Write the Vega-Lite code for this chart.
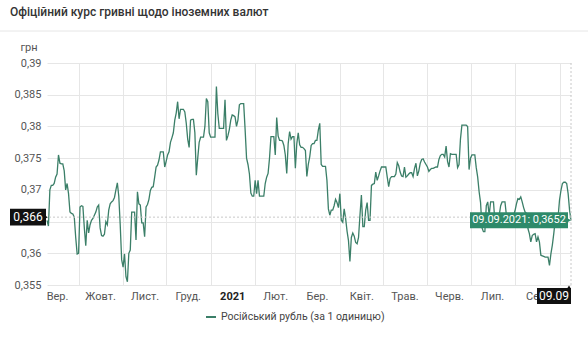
{
"$schema": "https://vega.github.io/schema/vega-lite/v6.json",
"width": 524, "height": 222,
"autosize": {"type": "none"},
"padding": {"left": 47, "top": 63, "right": 17, "bottom": 65},
"background": "white",
"config": {"view": {"stroke": null}, "font": "Roboto"},
"title": {"text": "Офіційний курс гривні щодо іноземних валют", "anchor": "start", "frame": "group", "dx": -37, "offset": 12, "fontSize": 12, "fontWeight": 500, "color": "#333333", "font": "Roboto"},
"datasets": {"rub": [
{"d":"2020-09-09","v":0.3652},{"d":"2020-09-10","v":0.3643},{"d":"2020-09-11","v":0.3700},{"d":"2020-09-12","v":0.3707},{"d":"2020-09-13","v":0.3707},{"d":"2020-09-14","v":0.3710},{"d":"2020-09-15","v":0.3720},{"d":"2020-09-16","v":0.3725},{"d":"2020-09-17","v":0.3755},{"d":"2020-09-18","v":0.3742},{"d":"2020-09-19","v":0.3741},{"d":"2020-09-20","v":0.3741},{"d":"2020-09-21","v":0.3730},{"d":"2020-09-22","v":0.3700},{"d":"2020-09-23","v":0.3710},{"d":"2020-09-24","v":0.3694},{"d":"2020-09-25","v":0.3665},{"d":"2020-09-26","v":0.3663},{"d":"2020-09-27","v":0.3662},{"d":"2020-09-28","v":0.3657},{"d":"2020-09-29","v":0.3625},{"d":"2020-09-30","v":0.3599},
{"d":"2020-10-01","v":0.3600},{"d":"2020-10-02","v":0.3673},{"d":"2020-10-03","v":0.3675},{"d":"2020-10-04","v":0.3674},{"d":"2020-10-05","v":0.3640},{"d":"2020-10-06","v":0.3612},{"d":"2020-10-07","v":0.3652},{"d":"2020-10-08","v":0.3632},{"d":"2020-10-09","v":0.3645},{"d":"2020-10-10","v":0.3652},{"d":"2020-10-11","v":0.3655},{"d":"2020-10-12","v":0.3660},{"d":"2020-10-13","v":0.3665},{"d":"2020-10-14","v":0.3673},{"d":"2020-10-15","v":0.3676},{"d":"2020-10-16","v":0.3640},{"d":"2020-10-17","v":0.3628},{"d":"2020-10-18","v":0.3627},{"d":"2020-10-19","v":0.3630},{"d":"2020-10-20","v":0.3650},{"d":"2020-10-21","v":0.3645},{"d":"2020-10-22","v":0.3668},{"d":"2020-10-23","v":0.3678},{"d":"2020-10-24","v":0.3681},{"d":"2020-10-25","v":0.3683},{"d":"2020-10-26","v":0.3688},{"d":"2020-10-27","v":0.3700},{"d":"2020-10-28","v":0.3711},{"d":"2020-10-29","v":0.3690},{"d":"2020-10-30","v":0.3645},{"d":"2020-10-31","v":0.3590},
{"d":"2020-11-01","v":0.3578},{"d":"2020-11-02","v":0.3599},{"d":"2020-11-03","v":0.3563},{"d":"2020-11-04","v":0.3555},{"d":"2020-11-05","v":0.3600},{"d":"2020-11-06","v":0.3605},{"d":"2020-11-07","v":0.3665},{"d":"2020-11-08","v":0.3665},{"d":"2020-11-09","v":0.3665},{"d":"2020-11-10","v":0.3621},{"d":"2020-11-11","v":0.3697},{"d":"2020-11-12","v":0.3678},{"d":"2020-11-13","v":0.3676},{"d":"2020-11-14","v":0.3648},{"d":"2020-11-15","v":0.3648},{"d":"2020-11-16","v":0.3626},{"d":"2020-11-17","v":0.3673},{"d":"2020-11-18","v":0.3677},{"d":"2020-11-19","v":0.3685},{"d":"2020-11-20","v":0.3699},{"d":"2020-11-21","v":0.3704},{"d":"2020-11-22","v":0.3705},{"d":"2020-11-23","v":0.3720},{"d":"2020-11-24","v":0.3736},{"d":"2020-11-25","v":0.3739},{"d":"2020-11-26","v":0.3747},{"d":"2020-11-27","v":0.3760},{"d":"2020-11-28","v":0.3760},{"d":"2020-11-29","v":0.3760},{"d":"2020-11-30","v":0.3736},
{"d":"2020-12-01","v":0.3745},{"d":"2020-12-02","v":0.3755},{"d":"2020-12-03","v":0.3760},{"d":"2020-12-04","v":0.3775},{"d":"2020-12-05","v":0.3782},{"d":"2020-12-06","v":0.3790},{"d":"2020-12-07","v":0.3810},{"d":"2020-12-08","v":0.3821},{"d":"2020-12-09","v":0.3839},{"d":"2020-12-10","v":0.3812},{"d":"2020-12-11","v":0.3827},{"d":"2020-12-12","v":0.3827},{"d":"2020-12-13","v":0.3827},{"d":"2020-12-14","v":0.3823},{"d":"2020-12-15","v":0.3805},{"d":"2020-12-16","v":0.3780},{"d":"2020-12-17","v":0.3767},{"d":"2020-12-18","v":0.3810},{"d":"2020-12-19","v":0.3811},{"d":"2020-12-20","v":0.3811},{"d":"2020-12-21","v":0.3790},{"d":"2020-12-22","v":0.3723},{"d":"2020-12-23","v":0.3750},{"d":"2020-12-24","v":0.3775},{"d":"2020-12-25","v":0.3783},{"d":"2020-12-26","v":0.3783},{"d":"2020-12-27","v":0.3783},{"d":"2020-12-28","v":0.3800},{"d":"2020-12-29","v":0.3844},{"d":"2020-12-30","v":0.3839},{"d":"2020-12-31","v":0.3790},
{"d":"2021-01-01","v":0.3783},{"d":"2021-01-02","v":0.3783},{"d":"2021-01-03","v":0.3783},{"d":"2021-01-04","v":0.3783},{"d":"2021-01-05","v":0.3863},{"d":"2021-01-06","v":0.3820},{"d":"2021-01-07","v":0.3797},{"d":"2021-01-08","v":0.3797},{"d":"2021-01-09","v":0.3797},{"d":"2021-01-10","v":0.3797},{"d":"2021-01-11","v":0.3842},{"d":"2021-01-12","v":0.3778},{"d":"2021-01-13","v":0.3785},{"d":"2021-01-14","v":0.3795},{"d":"2021-01-15","v":0.3810},{"d":"2021-01-16","v":0.3818},{"d":"2021-01-17","v":0.3817},{"d":"2021-01-18","v":0.3815},{"d":"2021-01-19","v":0.3800},{"d":"2021-01-20","v":0.3810},{"d":"2021-01-21","v":0.3834},{"d":"2021-01-22","v":0.3836},{"d":"2021-01-23","v":0.3836},{"d":"2021-01-24","v":0.3836},{"d":"2021-01-25","v":0.3795},{"d":"2021-01-26","v":0.3750},{"d":"2021-01-27","v":0.3740},{"d":"2021-01-28","v":0.3725},{"d":"2021-01-29","v":0.3695},{"d":"2021-01-30","v":0.3690},{"d":"2021-01-31","v":0.3690},
{"d":"2021-02-01","v":0.3715},{"d":"2021-02-02","v":0.3694},{"d":"2021-02-03","v":0.3715},{"d":"2021-02-04","v":0.3690},{"d":"2021-02-05","v":0.3690},{"d":"2021-02-06","v":0.3690},{"d":"2021-02-07","v":0.3690},{"d":"2021-02-08","v":0.3710},{"d":"2021-02-09","v":0.3720},{"d":"2021-02-10","v":0.3726},{"d":"2021-02-11","v":0.3750},{"d":"2021-02-12","v":0.3784},{"d":"2021-02-13","v":0.3784},{"d":"2021-02-14","v":0.3784},{"d":"2021-02-15","v":0.3755},{"d":"2021-02-16","v":0.3814},{"d":"2021-02-17","v":0.3785},{"d":"2021-02-18","v":0.3778},{"d":"2021-02-19","v":0.3778},{"d":"2021-02-20","v":0.3777},{"d":"2021-02-21","v":0.3770},{"d":"2021-02-22","v":0.3755},{"d":"2021-02-23","v":0.3726},{"d":"2021-02-24","v":0.3773},{"d":"2021-02-25","v":0.3792},{"d":"2021-02-26","v":0.3780},{"d":"2021-02-27","v":0.3784},{"d":"2021-02-28","v":0.3784},
{"d":"2021-03-01","v":0.3734},{"d":"2021-03-02","v":0.3773},{"d":"2021-03-03","v":0.3790},{"d":"2021-03-04","v":0.3771},{"d":"2021-03-05","v":0.3767},{"d":"2021-03-06","v":0.3767},{"d":"2021-03-07","v":0.3765},{"d":"2021-03-08","v":0.3762},{"d":"2021-03-09","v":0.3721},{"d":"2021-03-10","v":0.3740},{"d":"2021-03-11","v":0.3752},{"d":"2021-03-12","v":0.3770},{"d":"2021-03-13","v":0.3773},{"d":"2021-03-14","v":0.3773},{"d":"2021-03-15","v":0.3778},{"d":"2021-03-16","v":0.3778},{"d":"2021-03-17","v":0.3794},{"d":"2021-03-18","v":0.3805},{"d":"2021-03-19","v":0.3740},{"d":"2021-03-20","v":0.3737},{"d":"2021-03-21","v":0.3737},{"d":"2021-03-22","v":0.3737},{"d":"2021-03-23","v":0.3715},{"d":"2021-03-24","v":0.3670},{"d":"2021-03-25","v":0.3660},{"d":"2021-03-26","v":0.3668},{"d":"2021-03-27","v":0.3668},{"d":"2021-03-28","v":0.3675},{"d":"2021-03-29","v":0.3685},{"d":"2021-03-30","v":0.3680},{"d":"2021-03-31","v":0.3672},
{"d":"2021-04-01","v":0.3694},{"d":"2021-04-02","v":0.3652},{"d":"2021-04-03","v":0.3649},{"d":"2021-04-04","v":0.3670},{"d":"2021-04-05","v":0.3655},{"d":"2021-04-06","v":0.3635},{"d":"2021-04-07","v":0.3620},{"d":"2021-04-08","v":0.3587},{"d":"2021-04-09","v":0.3625},{"d":"2021-04-10","v":0.3632},{"d":"2021-04-11","v":0.3627},{"d":"2021-04-12","v":0.3617},{"d":"2021-04-13","v":0.3615},{"d":"2021-04-14","v":0.3625},{"d":"2021-04-15","v":0.3660},{"d":"2021-04-16","v":0.3692},{"d":"2021-04-17","v":0.3642},{"d":"2021-04-18","v":0.3642},{"d":"2021-04-19","v":0.3668},{"d":"2021-04-20","v":0.3680},{"d":"2021-04-21","v":0.3652},{"d":"2021-04-22","v":0.3652},{"d":"2021-04-23","v":0.3707},{"d":"2021-04-24","v":0.3709},{"d":"2021-04-25","v":0.3710},{"d":"2021-04-26","v":0.3728},{"d":"2021-04-27","v":0.3715},{"d":"2021-04-28","v":0.3722},{"d":"2021-04-29","v":0.3730},{"d":"2021-04-30","v":0.3736},
{"d":"2021-05-01","v":0.3736},{"d":"2021-05-02","v":0.3736},{"d":"2021-05-03","v":0.3736},{"d":"2021-05-04","v":0.3720},{"d":"2021-05-05","v":0.3705},{"d":"2021-05-06","v":0.3718},{"d":"2021-05-07","v":0.3721},{"d":"2021-05-08","v":0.3721},{"d":"2021-05-09","v":0.3721},{"d":"2021-05-10","v":0.3725},{"d":"2021-05-11","v":0.3743},{"d":"2021-05-12","v":0.3738},{"d":"2021-05-13","v":0.3728},{"d":"2021-05-14","v":0.3722},{"d":"2021-05-15","v":0.3721},{"d":"2021-05-16","v":0.3736},{"d":"2021-05-17","v":0.3720},{"d":"2021-05-18","v":0.3722},{"d":"2021-05-19","v":0.3725},{"d":"2021-05-20","v":0.3727},{"d":"2021-05-21","v":0.3727},{"d":"2021-05-22","v":0.3721},{"d":"2021-05-23","v":0.3734},{"d":"2021-05-24","v":0.3742},{"d":"2021-05-25","v":0.3722},{"d":"2021-05-26","v":0.3730},{"d":"2021-05-27","v":0.3742},{"d":"2021-05-28","v":0.3748},{"d":"2021-05-29","v":0.3749},{"d":"2021-05-30","v":0.3744},{"d":"2021-05-31","v":0.3740},
{"d":"2021-06-01","v":0.3736},{"d":"2021-06-02","v":0.3729},{"d":"2021-06-03","v":0.3732},{"d":"2021-06-04","v":0.3734},{"d":"2021-06-05","v":0.3734},{"d":"2021-06-06","v":0.3735},{"d":"2021-06-07","v":0.3736},{"d":"2021-06-08","v":0.3736},{"d":"2021-06-09","v":0.3748},{"d":"2021-06-10","v":0.3754},{"d":"2021-06-11","v":0.3756},{"d":"2021-06-12","v":0.3756},{"d":"2021-06-13","v":0.3752},{"d":"2021-06-14","v":0.3769},{"d":"2021-06-15","v":0.3745},{"d":"2021-06-16","v":0.3736},{"d":"2021-06-17","v":0.3757},{"d":"2021-06-18","v":0.3756},{"d":"2021-06-19","v":0.3756},{"d":"2021-06-20","v":0.3756},{"d":"2021-06-21","v":0.3756},{"d":"2021-06-22","v":0.3735},{"d":"2021-06-23","v":0.3740},{"d":"2021-06-24","v":0.3780},{"d":"2021-06-25","v":0.3802},{"d":"2021-06-26","v":0.3802},{"d":"2021-06-27","v":0.3802},{"d":"2021-06-28","v":0.3802},{"d":"2021-06-29","v":0.3800},{"d":"2021-06-30","v":0.3732},
{"d":"2021-07-01","v":0.3750},{"d":"2021-07-02","v":0.3755},{"d":"2021-07-03","v":0.3755},{"d":"2021-07-04","v":0.3755},{"d":"2021-07-05","v":0.3735},{"d":"2021-07-06","v":0.3720},{"d":"2021-07-07","v":0.3697},{"d":"2021-07-08","v":0.3680},{"d":"2021-07-09","v":0.3640},{"d":"2021-07-10","v":0.3634},{"d":"2021-07-11","v":0.3634},{"d":"2021-07-12","v":0.3675},{"d":"2021-07-13","v":0.3681},{"d":"2021-07-14","v":0.3660},{"d":"2021-07-15","v":0.3681},{"d":"2021-07-16","v":0.3681},{"d":"2021-07-17","v":0.3681},{"d":"2021-07-18","v":0.3650},{"d":"2021-07-19","v":0.3648},{"d":"2021-07-20","v":0.3652},{"d":"2021-07-21","v":0.3660},{"d":"2021-07-22","v":0.3675},{"d":"2021-07-23","v":0.3681},{"d":"2021-07-24","v":0.3681},{"d":"2021-07-25","v":0.3681},{"d":"2021-07-26","v":0.3660},{"d":"2021-07-27","v":0.3648},{"d":"2021-07-28","v":0.3642},{"d":"2021-07-29","v":0.3645},{"d":"2021-07-30","v":0.3652},{"d":"2021-07-31","v":0.3660},
{"d":"2021-08-01","v":0.3667},{"d":"2021-08-02","v":0.3678},{"d":"2021-08-03","v":0.3686},{"d":"2021-08-04","v":0.3685},{"d":"2021-08-05","v":0.3689},{"d":"2021-08-06","v":0.3681},{"d":"2021-08-07","v":0.3672},{"d":"2021-08-08","v":0.3665},{"d":"2021-08-09","v":0.3663},{"d":"2021-08-10","v":0.3639},{"d":"2021-08-11","v":0.3631},{"d":"2021-08-12","v":0.3618},{"d":"2021-08-13","v":0.3628},{"d":"2021-08-14","v":0.3630},{"d":"2021-08-15","v":0.3631},{"d":"2021-08-16","v":0.3618},{"d":"2021-08-17","v":0.3626},{"d":"2021-08-18","v":0.3618},{"d":"2021-08-19","v":0.3597},{"d":"2021-08-20","v":0.3596},{"d":"2021-08-21","v":0.3595},{"d":"2021-08-22","v":0.3594},{"d":"2021-08-23","v":0.3594},{"d":"2021-08-24","v":0.3594},{"d":"2021-08-25","v":0.3581},{"d":"2021-08-26","v":0.3599},{"d":"2021-08-27","v":0.3613},{"d":"2021-08-28","v":0.3631},{"d":"2021-08-29","v":0.3652},{"d":"2021-08-30","v":0.3655},{"d":"2021-08-31","v":0.3657},
{"d":"2021-09-01","v":0.3684},{"d":"2021-09-02","v":0.3699},{"d":"2021-09-03","v":0.3710},{"d":"2021-09-04","v":0.3712},{"d":"2021-09-05","v":0.3712},{"d":"2021-09-06","v":0.3710},{"d":"2021-09-07","v":0.3694},{"d":"2021-09-08","v":0.3668},{"d":"2021-09-09","v":0.3652}
]},
"layer": [
{
 "data": {"name": "rub"},
 "mark": {"type": "line", "strokeWidth": 1.3},
 "encoding": {
  "x": {"field": "d", "type": "temporal",
   "scale": {"domain": [{"year": 2020, "month": 9, "date": 9, "utc": true}, {"year": 2021, "month": 9, "date": 9, "utc": true}]},
   "axis": {"orient": "bottom", "title": null, "domain": false, "ticks": false, "labelFlush": false, "labelOverlap": false, "labelBound": false, "tickCount": 40,
    "values": [
     {"year": 2020, "month": 9, "date": 16, "utc": true},
     {"year": 2020, "month": 10, "date": 1, "utc": true},
     {"year": 2020, "month": 10, "date": 16, "utc": true},
     {"year": 2020, "month": 11, "date": 1, "utc": true},
     {"year": 2020, "month": 11, "date": 16, "utc": true},
     {"year": 2020, "month": 12, "date": 1, "utc": true},
     {"year": 2020, "month": 12, "date": 16, "utc": true},
     {"year": 2021, "month": 1, "date": 1, "utc": true},
     {"year": 2021, "month": 1, "date": 16, "utc": true},
     {"year": 2021, "month": 2, "date": 1, "utc": true},
     {"year": 2021, "month": 2, "date": 15, "utc": true},
     {"year": 2021, "month": 3, "date": 1, "utc": true},
     {"year": 2021, "month": 3, "date": 16, "utc": true},
     {"year": 2021, "month": 4, "date": 1, "utc": true},
     {"year": 2021, "month": 4, "date": 16, "utc": true},
     {"year": 2021, "month": 5, "date": 1, "utc": true},
     {"year": 2021, "month": 5, "date": 16, "utc": true},
     {"year": 2021, "month": 6, "date": 1, "utc": true},
     {"year": 2021, "month": 6, "date": 16, "utc": true},
     {"year": 2021, "month": 7, "date": 1, "utc": true},
     {"year": 2021, "month": 7, "date": 16, "utc": true},
     {"year": 2021, "month": 8, "date": 1, "utc": true},
     {"year": 2021, "month": 8, "date": 16, "utc": true},
     {"year": 2021, "month": 9, "date": 1, "utc": true}
    ],
    "labelExpr": "utcdate(datum.value) == 1 ? '' : (utcmonth(datum.value) == 0 ? '2021' : ['Січ.','Лют.','Бер.','Квіт.','Трав.','Черв.','Лип.','Сер.','Вер.','Жовт.','Лист.','Груд.'][utcmonth(datum.value)])",
    "labelFontSize": 11, "labelPadding": 5, "labelFont": "Roboto",
    "labelColor": {"condition": {"test": "utcmonth(datum.value) == 0", "value": "#222222"}, "value": "#555555"},
    "labelFontWeight": {"condition": {"test": "utcmonth(datum.value) == 0", "value": "bold"}, "value": "normal"},
    "grid": true,
    "gridColor": {"condition": {"test": "utcdate(datum.value) == 1", "value": "#e6e6e6"}, "value": "transparent"}
   }},
  "y": {"field": "v", "type": "quantitative",
   "scale": {"domain": [0.355, 0.39], "nice": false, "zero": false},
   "axis": {"values": [0.355, 0.36, 0.365, 0.37, 0.375, 0.38, 0.385, 0.39], "tickCount": 20,
    "labelExpr": "datum.value > 0.3649 && datum.value < 0.3651 ? '' : replace(format(datum.value, '.3~f'), '.', ',')",
    "labelOverlap": false, "labelBound": false, "labelFlush": false,
    "domain": false, "ticks": false, "labelPadding": 6, "labelFontSize": 11, "labelColor": "#555555", "labelFont": "Roboto",
    "grid": true, "gridColor": "#e6e6e6",
    "title": "грн", "titleAngle": 0, "titleAlign": "left", "titleBaseline": "middle", "titleX": -27, "titleY": -16,
    "titleFontSize": 11, "titleFontWeight": "normal", "titleColor": "#555555", "titleFont": "Roboto"}},
  "color": {"datum": "Російський рубль (за 1 одиницю)", "scale": {"range": ["#3b7f68"]},
   "legend": {"title": null, "orient": "none", "legendX": 158, "legendY": 248, "symbolType": "stroke", "symbolSize": 100, "symbolStrokeWidth": 2, "labelFontSize": 10.5, "labelLimit": 400, "labelColor": "#444444", "labelFont": "Roboto"}}
 }
},
{
 "data": {"values": [{}]},
 "mark": {"type": "rule", "color": "#e6e6e6", "strokeWidth": 1, "xOffset": -47, "x2Offset": 17, "yOffset": -32},
 "encoding": {"x": {"datum": {"year": 2020, "month": 9, "date": 9, "utc": true}, "type": "temporal"}, "x2": {"datum": {"year": 2021, "month": 9, "date": 9, "utc": true}}, "y": {"datum": 0.39, "type": "quantitative"}}
},
{
 "data": {"values": [{}]},
 "mark": {"type": "rule", "color": "#c8c8c8", "strokeDash": [2, 2], "strokeWidth": 1},
 "encoding": {"y": {"datum": 0.3657, "type": "quantitative"}}
},
{
 "data": {"values": [{}]},
 "mark": {"type": "rule", "color": "#c8c8c8", "strokeDash": [2, 2], "strokeWidth": 1},
 "encoding": {"x": {"datum": {"year": 2021, "month": 9, "date": 9, "utc": true}, "type": "temporal"}}
},
{
 "data": {"values": [{}]},
 "mark": {"type": "point", "shape": "M-1,-0.47H1V0.47H-1Z", "size": 1296, "filled": true, "opacity": 1, "color": "#111111", "xOffset": -19},
 "encoding": {"x": {"datum": {"year": 2020, "month": 9, "date": 9, "utc": true}, "type": "temporal"}, "y": {"datum": 0.3657, "type": "quantitative"}}
},
{
 "data": {"values": [{}]},
 "mark": {"type": "point", "shape": "triangle-right", "size": 18, "filled": true, "opacity": 1, "color": "#111111", "xOffset": -1},
 "encoding": {"x": {"datum": {"year": 2020, "month": 9, "date": 9, "utc": true}, "type": "temporal"}, "y": {"datum": 0.3657, "type": "quantitative"}}
},
{
 "data": {"values": [{}]},
 "mark": {"type": "text", "text": "0,366", "color": "white", "fontSize": 12, "font": "Roboto", "dx": -19, "align": "center", "baseline": "middle"},
 "encoding": {"x": {"datum": {"year": 2020, "month": 9, "date": 9, "utc": true}, "type": "temporal"}, "y": {"datum": 0.3657, "type": "quantitative"}}
},
{
 "data": {"values": [{}]},
 "mark": {"type": "point", "shape": "M-1,-0.47H1V0.47H-1Z", "size": 1156, "filled": true, "opacity": 1, "color": "#111111", "xOffset": -17, "yOffset": 11},
 "encoding": {"x": {"datum": {"year": 2021, "month": 9, "date": 9, "utc": true}, "type": "temporal"}, "y": {"datum": 0.355, "type": "quantitative"}}
},
{
 "data": {"values": [{}]},
 "mark": {"type": "point", "shape": "triangle-up", "size": 14, "filled": true, "opacity": 1, "color": "#111111", "xOffset": -2, "yOffset": 2},
 "encoding": {"x": {"datum": {"year": 2021, "month": 9, "date": 9, "utc": true}, "type": "temporal"}, "y": {"datum": 0.355, "type": "quantitative"}}
},
{
 "data": {"values": [{}]},
 "mark": {"type": "text", "text": "09.09", "color": "white", "fontSize": 12, "font": "Roboto", "dx": -17, "dy": 11, "align": "center", "baseline": "middle"},
 "encoding": {"x": {"datum": {"year": 2021, "month": 9, "date": 9, "utc": true}, "type": "temporal"}, "y": {"datum": 0.355, "type": "quantitative"}}
},
{
 "data": {"values": [{}]},
 "mark": {"type": "point", "shape": "M-1,-0.163H1V0.163H-1Z", "size": 9604, "filled": true, "opacity": 1, "color": "#2e8a6a", "xOffset": -52},
 "encoding": {"x": {"datum": {"year": 2021, "month": 9, "date": 9, "utc": true}, "type": "temporal"}, "y": {"datum": 0.3652, "type": "quantitative"}}
},
{
 "data": {"values": [{}]},
 "mark": {"type": "point", "shape": "triangle-right", "size": 20, "filled": true, "opacity": 1, "color": "#2e8a6a", "xOffset": -2},
 "encoding": {"x": {"datum": {"year": 2021, "month": 9, "date": 9, "utc": true}, "type": "temporal"}, "y": {"datum": 0.3652, "type": "quantitative"}}
},
{
 "data": {"values": [{}]},
 "mark": {"type": "text", "text": "09.09.2021: 0,3652", "color": "white", "fontSize": 11, "font": "Roboto", "dx": -52, "align": "center", "baseline": "middle"},
 "encoding": {"x": {"datum": {"year": 2021, "month": 9, "date": 9, "utc": true}, "type": "temporal"}, "y": {"datum": 0.3652, "type": "quantitative"}}
}
]
}
